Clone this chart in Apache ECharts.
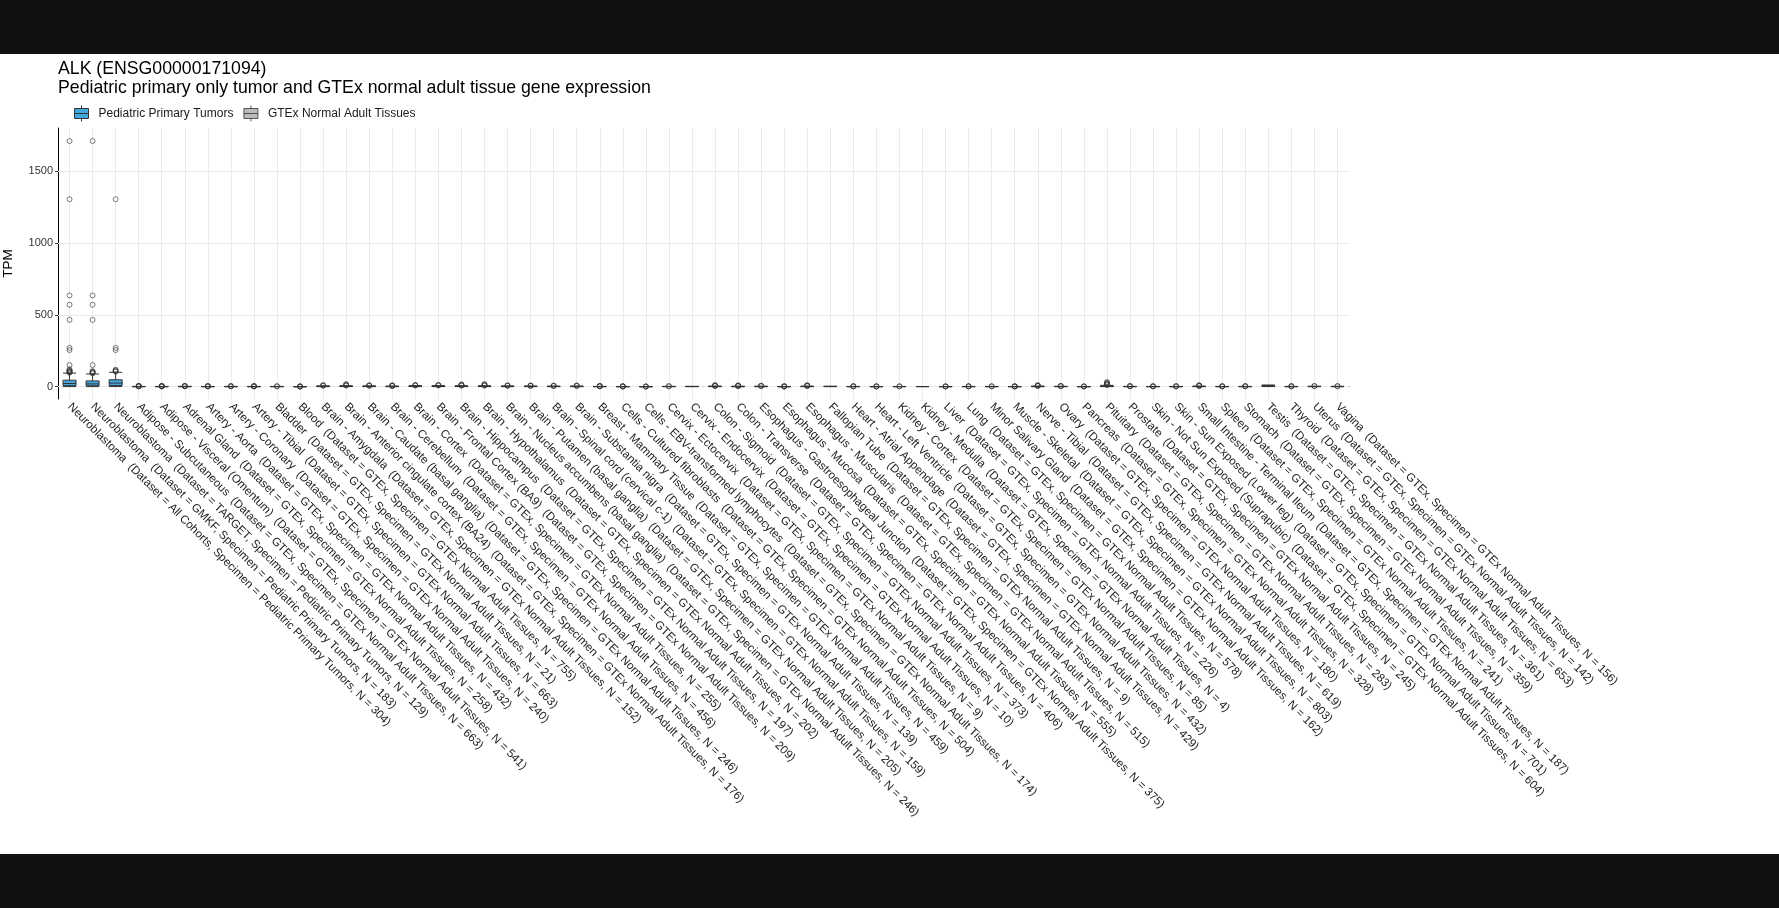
<!DOCTYPE html>
<html>
<head>
<meta charset="utf-8">
<style>
html,body{margin:0;padding:0;background:#111111;width:1779px;height:908px;overflow:hidden;}
#chart{position:absolute;left:0;top:54px;width:1779px;height:800px;background:#ffffff;}
</style>
<script src="https://cdn.jsdelivr.net/npm/echarts@6/dist/echarts.min.js"></script>
</head>
<body>
<div id="chart"></div>
<script>
// ---------- data ----------
const titleLine1 = 'ALK (ENSG00000171094)';
const titleLine2 = 'Pediatric primary only tumor and GTEx normal adult tissue gene expression';
const groupNames = ['Pediatric Primary Tumors', 'GTEx Normal Adult Tissues'];
const groupColors = ['#41a7df', '#aaaaaa'];

const tissueNames = [
  'Neuroblastoma', 'Neuroblastoma', 'Neuroblastoma',
  'Adipose - Subcutaneous', 'Adipose - Visceral (Omentum)', 'Adrenal Gland',
  'Artery - Aorta', 'Artery - Coronary', 'Artery - Tibial', 'Bladder', 'Blood',
  'Brain - Amygdala', 'Brain - Anterior cingulate cortex (BA24)', 'Brain - Caudate (basal ganglia)',
  'Brain - Cerebellum', 'Brain - Cortex', 'Brain - Frontal Cortex (BA9)', 'Brain - Hippocampus',
  'Brain - Hypothalamus', 'Brain - Nucleus accumbens (basal ganglia)', 'Brain - Putamen (basal ganglia)',
  'Brain - Spinal cord (cervical c-1)', 'Brain - Substantia nigra', 'Breast - Mammary Tissue',
  'Cells - Cultured fibroblasts', 'Cells - EBV-transformed lymphocytes', 'Cervix - Ectocervix',
  'Cervix - Endocervix', 'Colon - Sigmoid', 'Colon - Transverse', 'Esophagus - Gastroesophageal Junction',
  'Esophagus - Mucosa', 'Esophagus - Muscularis', 'Fallopian Tube', 'Heart - Atrial Appendage',
  'Heart - Left Ventricle', 'Kidney - Cortex', 'Kidney - Medulla', 'Liver', 'Lung',
  'Minor Salivary Gland', 'Muscle - Skeletal', 'Nerve - Tibial', 'Ovary', 'Pancreas', 'Pituitary',
  'Prostate', 'Skin - Not Sun Exposed (Suprapubic)', 'Skin - Sun Exposed (Lower leg)',
  'Small Intestine - Terminal Ileum', 'Spleen', 'Stomach', 'Testis', 'Thyroid', 'Uterus', 'Vagina'
];
const datasets = ['All Cohorts', 'GMKF', 'TARGET'].concat(new Array(53).fill('GTEx'));
const groupIndex = [0, 0, 0].concat(new Array(53).fill(1));
const sampleN = [
  304, 183, 129,
  663, 541, 258, 432, 240, 663, 21, 755,
  152, 176, 246, 456, 255, 209, 197, 202, 246, 205, 159, 139,
  459, 504, 174, 9, 10, 373, 406, 375, 555, 515, 9, 429, 432, 85, 4,
  226, 578, 162, 803, 619, 180, 328, 283, 245, 604, 701, 187, 241, 359, 361, 653, 142, 156
];

// five-number summaries [lower whisker, Q1, median, Q3, upper whisker] (TPM)
const boxStats = [
  [0.3, 7, 22, 45, 94],
  [0.3, 6, 19, 40, 88],
  [0.5, 8, 25, 48, 100],
  [0.0, 0.2, 0.4, 0.8, 1.6],
  [0.0, 0.2, 0.4, 0.8, 1.5],
  [0.0, 0.3, 0.6, 1.1, 2.2],
  [0.0, 0.2, 0.4, 0.7, 1.4],
  [0.0, 0.2, 0.5, 0.9, 1.8],
  [0.0, 0.2, 0.4, 0.7, 1.3],
  [0.0, 0.3, 0.5, 0.9, 1.7],
  [0.0, 0.0, 0.1, 0.2, 0.4],
  [0.2, 1.0, 1.8, 2.9, 5.6],
  [0.3, 1.2, 2.1, 3.3, 6.4],
  [0.2, 0.9, 1.6, 2.6, 5.1],
  [0.1, 0.6, 1.1, 1.9, 3.8],
  [0.3, 1.3, 2.2, 3.5, 6.8],
  [0.3, 1.4, 2.4, 3.7, 7.1],
  [0.3, 1.1, 2.0, 3.2, 6.3],
  [0.2, 1.0, 1.9, 3.1, 6.2],
  [0.2, 0.8, 1.5, 2.5, 5.0],
  [0.2, 0.7, 1.3, 2.2, 4.4],
  [0.1, 0.5, 1.0, 1.8, 3.7],
  [0.1, 0.6, 1.2, 2.0, 4.1],
  [0.0, 0.3, 0.5, 0.9, 1.8],
  [0.0, 0.1, 0.2, 0.4, 0.8],
  [0.0, 0.0, 0.1, 0.2, 0.4],
  [0.1, 0.4, 0.8, 1.3, 2.0],
  [0.1, 0.5, 0.9, 1.4, 2.1],
  [0.1, 0.5, 1.0, 1.9, 3.9],
  [0.0, 0.3, 0.7, 1.4, 3.0],
  [0.1, 0.4, 0.8, 1.5, 3.1],
  [0.0, 0.1, 0.2, 0.4, 0.8],
  [0.1, 0.5, 0.9, 1.7, 3.5],
  [0.2, 0.6, 1.1, 1.8, 2.6],
  [0.0, 0.2, 0.4, 0.7, 1.4],
  [0.0, 0.1, 0.3, 0.5, 1.0],
  [0.0, 0.2, 0.4, 0.7, 1.3],
  [0.2, 0.4, 0.6, 0.9, 1.1],
  [0.0, 0.1, 0.2, 0.4, 0.8],
  [0.0, 0.2, 0.4, 0.7, 1.4],
  [0.0, 0.2, 0.4, 0.8, 1.6],
  [0.0, 0.1, 0.2, 0.4, 0.8],
  [0.1, 0.6, 1.1, 1.9, 3.8],
  [0.1, 0.4, 0.7, 1.2, 2.4],
  [0.0, 0.1, 0.2, 0.4, 0.8],
  [0.3, 1.5, 2.8, 4.6, 9.2],
  [0.1, 0.3, 0.6, 1.0, 2.0],
  [0.0, 0.2, 0.4, 0.7, 1.4],
  [0.0, 0.2, 0.4, 0.7, 1.4],
  [0.1, 0.5, 1.0, 1.8, 3.7],
  [0.0, 0.2, 0.4, 0.7, 1.4],
  [0.0, 0.2, 0.5, 0.9, 1.8],
  [0.8, 3.0, 4.5, 6.5, 11.5],
  [0.0, 0.2, 0.4, 0.8, 1.6],
  [0.1, 0.4, 0.8, 1.4, 2.8],
  [0.1, 0.4, 0.7, 1.2, 2.4]
];

// outlier values (TPM) per category
const outlierValues = [
  [97, 100, 103, 106, 110, 114, 120, 150, 255, 270, 465, 570, 635, 1305, 1710],
  [92, 96, 100, 104, 108, 150, 465, 570, 635, 1710],
  [104, 108, 112, 118, 255, 270, 1305],
  [2.0, 2.6, 3.3, 4.5, 6.2],
  [1.9, 2.4, 3.0, 4.1, 5.5],
  [2.6, 3.2, 4.0, 5.2],
  [1.8, 2.3, 3.1, 4.4],
  [2.2, 2.9, 3.8],
  [1.7, 2.2, 3.0, 4.3],
  [2.2, 3.1],
  [0.6, 0.9, 1.4, 2.2],
  [6.5, 8.0, 10.5],
  [7.5, 9.5, 13.0, 18.0],
  [6.0, 7.8, 9.6],
  [4.5, 5.8, 7.2, 9.0],
  [7.8, 9.4, 12.0],
  [8.3, 10.1, 12.5],
  [7.4, 9.0, 12.4, 16.0],
  [7.2, 9.5, 13.5, 18.0],
  [5.9, 7.3, 9.2],
  [5.2, 6.6, 8.4],
  [4.4, 5.6, 7.0],
  [4.8, 6.2, 8.1],
  [2.2, 2.9, 3.8, 5.0],
  [1.0, 1.4, 2.0, 3.1],
  [0.6, 0.9, 1.5],
  [2.6, 3.4],
  [],
  [4.7, 6.1, 8.2, 10.5],
  [3.7, 5.0, 6.8, 9.5],
  [3.8, 5.1, 6.6],
  [1.0, 1.4, 2.1, 2.9],
  [4.3, 5.8, 7.9, 10.0],
  [],
  [1.8, 2.4, 3.3],
  [1.3, 1.8, 2.6],
  [1.7, 2.3],
  [],
  [1.0, 1.5, 2.1],
  [1.8, 2.5, 3.4],
  [2.0, 2.7],
  [1.0, 1.4, 2.0, 2.8],
  [4.6, 6.0, 7.8, 10.2],
  [2.9, 3.8, 5.0],
  [1.0, 1.4, 2.2],
  [11.0, 14.0, 18.0, 22.0, 27.0, 32.0],
  [2.4, 3.2, 4.3],
  [1.8, 2.4, 3.2],
  [1.8, 2.5, 3.4],
  [4.5, 5.9, 7.8, 10.0],
  [1.7, 2.3, 3.1],
  [2.2, 2.9, 3.9],
  [],
  [2.0, 2.7, 3.6],
  [3.4, 4.4],
  [2.9, 3.8]
];

const yTicks = [0, 500, 1000, 1500];
const yMin = -86;
const yMax = 1801;

// ---------- build ----------
const categories = tissueNames.map(function (t, i) {
  return t + '  (Dataset = ' + datasets[i] + ', Specimen = ' + groupNames[groupIndex[i]] + ', N = ' + sampleN[i] + ')';
});

const boxData = boxStats.map(function (s, i) {
  return { value: s, itemStyle: { color: groupColors[groupIndex[i]] } };
});

const outlierData = [];
outlierValues.forEach(function (arr, i) {
  arr.forEach(function (v) { outlierData.push([i, v]); });
});

const FONT = '"Liberation Sans", Arial, Helvetica, sans-serif';
const boxIcon = 'path://M8,0L8,3M1,3L15,3L15,13L1,13ZM1,8L15,8M8,13L8,16';

const gridLines = yTicks.map(function (v) { return { yAxis: v }; })
  .concat(categories.map(function (c) { return { xAxis: c }; }));

const chart = echarts.init(document.getElementById('chart'), null, { renderer: 'canvas' });
chart.setOption({
  animation: false,
  backgroundColor: '#ffffff',
  textStyle: { fontFamily: FONT },
  title: {
    text: titleLine1 + '\n' + titleLine2,
    left: 58,
    top: 5,
    padding: 0,
    textStyle: { fontFamily: FONT, fontSize: 17.7, fontWeight: 'normal', color: '#000000', lineHeight: 19.5 }
  },
  legend: {
    left: 74,
    top: 51,
    padding: 0,
    itemWidth: 16,
    itemHeight: 16,
    itemGap: 10,
    selectedMode: false,
    textStyle: { fontFamily: FONT, fontSize: 12, color: '#1a1a1a', padding: [0, 0, 0, 4] },
    data: [
      { name: groupNames[0], icon: boxIcon, itemStyle: { color: groupColors[0], borderColor: '#333333', borderWidth: 1 } },
      { name: groupNames[1], icon: boxIcon, itemStyle: { color: groupColors[1], borderColor: '#333333', borderWidth: 1 } }
    ]
  },
  grid: { left: 58, right: 430, top: 74, bottom: 455, containLabel: false, outerBoundsMode: 'none' },
  xAxis: {
    type: 'category',
    data: categories,
    boundaryGap: true,
    axisLine: { show: true, lineStyle: { color: '#000000', width: 1 } },
    axisTick: { show: true, alignWithLabel: true, interval: 0, length: 4, lineStyle: { color: '#333333' } },
    axisLabel: { interval: 0, rotate: -45, fontSize: 11.6, color: '#222222', margin: 6, fontFamily: FONT },
    splitLine: { show: false }
  },
  yAxis: {
    type: 'value',
    min: yMin,
    max: yMax,
    name: 'TPM',
    nameLocation: 'middle',
    nameGap: 43,
    nameTextStyle: { fontSize: 13.5, color: '#000000', fontFamily: FONT },
    axisLine: { show: true, lineStyle: { color: '#000000', width: 1 } },
    axisTick: { show: true, length: 3, lineStyle: { color: '#333333' }, customValues: yTicks },
    axisLabel: {
      fontSize: 11, color: '#333333', margin: 5, fontFamily: FONT, customValues: yTicks,
      formatter: function (v) { return yTicks.indexOf(v) >= 0 ? String(v) : ''; }
    },
    splitLine: { show: false }
  },
  series: [
    {
      name: groupNames[0],
      type: 'boxplot',
      data: boxData,
      boxWidth: [13, 13],
      z: 3,
      itemStyle: { color: groupColors[0], borderColor: '#333333', borderWidth: 1 },
      emphasis: { disabled: true },
      silent: true
    },
    {
      name: groupNames[1],
      type: 'scatter',
      data: [],
      itemStyle: { color: groupColors[1] }
    },
    {
      name: 'outliers',
      type: 'scatter',
      data: outlierData,
      symbol: 'circle',
      symbolSize: 5,
      z: 4,
      silent: true,
      itemStyle: { color: 'rgba(0,0,0,0)', borderColor: '#333333', borderWidth: 0.8 },
      emphasis: { disabled: true },
      markLine: {
        silent: true,
        z: 1,
        symbol: ['none', 'none'],
        label: { show: false },
        emphasis: { disabled: true },
        lineStyle: { color: '#ebebeb', width: 1, type: 'solid' },
        data: gridLines
      }
    }
  ]
});
</script>
</body>
</html>
